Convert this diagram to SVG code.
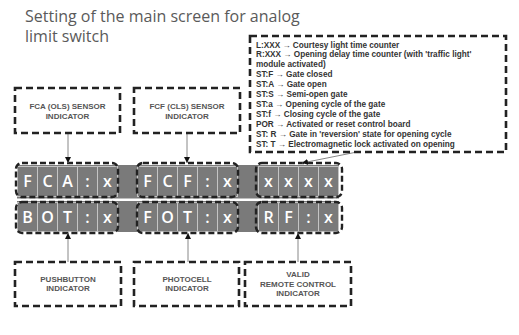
<svg xmlns="http://www.w3.org/2000/svg" width="519" height="335" viewBox="0 0 519 335">
<defs>
<marker id="ah" viewBox="0 0 10 10" refX="10" refY="5" markerWidth="6" markerHeight="6" orient="auto" markerUnits="userSpaceOnUse">
<path d="M0,0 L10,5 L0,10 z" fill="#111"/>
</marker>
<style>
.title{font-family:"Open Sans","Liberation Sans",sans-serif;font-size:16px;fill:#5a5a5a}
.box{fill:none;stroke:#222;stroke-width:2.6;stroke-dasharray:7 4}
.grp{fill:none;stroke:#222;stroke-width:2.4;stroke-dasharray:6 3}
.lbl{font-family:"Liberation Sans",Arial,sans-serif;font-size:8px;font-weight:bold;fill:#555;text-anchor:middle}
.leg{font-family:"Liberation Sans",Arial,sans-serif;font-size:8.2px;font-weight:bold;fill:#333}
.cell{fill:#7a7a7a;stroke:#c4c4c4;stroke-width:1}
.ch{font-family:"Open Sans","Liberation Sans",sans-serif;font-size:16px;font-weight:600;fill:#fff;text-anchor:middle}
.con{stroke:#888;stroke-width:1;fill:none;marker-end:url(#ah)}
</style>
</defs>
<rect width="519" height="335" fill="#fff"/>
<text class="title" x="25" y="22">Setting of the main screen for analog</text>
<text class="title" x="25" y="42">limit switch</text>

<g id="display">
<rect x="17" y="165" width="322" height="67" fill="#7a7a7a"/>
<rect x="17" y="198.5" width="322" height="2.5" fill="#fff"/>
<g id="row-top">
<rect class="cell" x="17.5" y="166.5" width="20" height="30"/><rect class="cell" x="37.5" y="166.5" width="20" height="30"/><rect class="cell" x="57.5" y="166.5" width="20" height="30"/><rect class="cell" x="77.5" y="166.5" width="20" height="30"/><rect class="cell" x="97.5" y="166.5" width="20" height="30"/>
<rect class="cell" x="137.5" y="166.5" width="20" height="30"/><rect class="cell" x="157.5" y="166.5" width="20" height="30"/><rect class="cell" x="177.5" y="166.5" width="20" height="30"/><rect class="cell" x="197.5" y="166.5" width="20" height="30"/><rect class="cell" x="217.5" y="166.5" width="20" height="30"/>
<rect class="cell" x="258.5" y="166.5" width="20" height="30"/><rect class="cell" x="278.5" y="166.5" width="20" height="30"/><rect class="cell" x="298.5" y="166.5" width="20" height="30"/><rect class="cell" x="318.5" y="166.5" width="20" height="30"/>
<text class="ch" x="27.5" y="187">F</text><text class="ch" x="47.5" y="187">C</text><text class="ch" x="67.5" y="187">A</text><text class="ch" x="87.5" y="187">:</text><text class="ch" x="107.5" y="187">x</text>
<text class="ch" x="147.5" y="187">F</text><text class="ch" x="167.5" y="187">C</text><text class="ch" x="187.5" y="187">F</text><text class="ch" x="207.5" y="187">:</text><text class="ch" x="227.5" y="187">x</text>
<text class="ch" x="268.5" y="187">x</text><text class="ch" x="288.5" y="187">x</text><text class="ch" x="308.5" y="187">x</text><text class="ch" x="328.5" y="187">x</text>
</g>
<g id="row-bottom">
<rect class="cell" x="17.5" y="202.5" width="20" height="29"/><rect class="cell" x="37.5" y="202.5" width="20" height="29"/><rect class="cell" x="57.5" y="202.5" width="20" height="29"/><rect class="cell" x="77.5" y="202.5" width="20" height="29"/><rect class="cell" x="97.5" y="202.5" width="20" height="29"/>
<rect class="cell" x="137.5" y="202.5" width="20" height="29"/><rect class="cell" x="157.5" y="202.5" width="20" height="29"/><rect class="cell" x="177.5" y="202.5" width="20" height="29"/><rect class="cell" x="197.5" y="202.5" width="20" height="29"/><rect class="cell" x="217.5" y="202.5" width="20" height="29"/>
<rect class="cell" x="258.5" y="202.5" width="20" height="29"/><rect class="cell" x="278.5" y="202.5" width="20" height="29"/><rect class="cell" x="298.5" y="202.5" width="20" height="29"/><rect class="cell" x="318.5" y="202.5" width="20" height="29"/>
<text class="ch" x="27.5" y="223">B</text><text class="ch" x="47.5" y="223">O</text><text class="ch" x="67.5" y="223">T</text><text class="ch" x="87.5" y="223">:</text><text class="ch" x="107.5" y="223">x</text>
<text class="ch" x="147.5" y="223">F</text><text class="ch" x="167.5" y="223">O</text><text class="ch" x="187.5" y="223">T</text><text class="ch" x="207.5" y="223">:</text><text class="ch" x="227.5" y="223">x</text>
<text class="ch" x="268.5" y="223">R</text><text class="ch" x="288.5" y="223">F</text><text class="ch" x="308.5" y="223">:</text><text class="ch" x="328.5" y="223">x</text>
</g>
<g id="groups">
<rect id="grp-fca" class="grp" x="16" y="163" width="102" height="34" rx="6"/>
<rect id="grp-fcf" class="grp" x="137" y="163" width="101" height="34" rx="6"/>
<rect id="grp-xxxx" class="grp" x="256" y="163" width="86" height="34" rx="6"/>
<rect id="grp-bot" class="grp" x="16" y="202" width="102" height="31" rx="6"/>
<rect id="grp-fot" class="grp" x="137" y="202" width="101" height="31" rx="6"/>
<rect id="grp-rf" class="grp" x="256" y="202" width="86" height="31" rx="6"/>
</g>
</g>

<g id="connectors">
<line class="con" x1="68" y1="133" x2="68" y2="163"/>
<line class="con" x1="187" y1="133" x2="187" y2="163"/>
<line class="con" x1="357" y1="152" x2="302" y2="163"/>
<line class="con" x1="68" y1="262" x2="68" y2="233"/>
<line class="con" x1="188" y1="262" x2="188" y2="233"/>
<line class="con" x1="298" y1="262" x2="298" y2="233"/>
</g>

<g id="fca-sensor">
<rect class="box" x="15" y="88" width="105" height="45"/>
<text class="lbl" x="67.5" y="109">FCA (OLS) SENSOR</text>
<text class="lbl" x="67.5" y="119">INDICATOR</text>
</g>
<g id="fcf-sensor">
<rect class="box" x="134" y="88" width="106" height="45"/>
<text class="lbl" x="187" y="109">FCF (CLS) SENSOR</text>
<text class="lbl" x="187" y="119">INDICATOR</text>
</g>
<g id="legend">
<rect class="box" x="250" y="36" width="256" height="116"/>
<text class="leg" x="256" y="47.5">L:XXX → Courtesy light time counter</text>
<text class="leg" x="256" y="57.4">R:XXX → Opening delay time counter (with 'traffic light'</text>
<text class="leg" x="256" y="67.3">module activated)</text>
<text class="leg" x="256" y="77.2">ST:F → Gate closed</text>
<text class="leg" x="256" y="87.1">ST:A → Gate open</text>
<text class="leg" x="256" y="97">ST:S → Semi-open gate</text>
<text class="leg" x="256" y="106.9">ST:a → Opening cycle of the gate</text>
<text class="leg" x="256" y="116.8">ST:f → Closing cycle of the gate</text>
<text class="leg" x="256" y="126.7">POR → Activated or reset control board</text>
<text class="leg" x="256" y="136.6">ST: R → Gate in 'reversion' state for opening cycle</text>
<text class="leg" x="256" y="146.5">ST: T → Electromagnetic lock activated on opening</text>
</g>
<g id="pushbutton">
<rect class="box" x="15" y="262" width="106" height="44"/>
<text class="lbl" x="68" y="282">PUSHBUTTON</text>
<text class="lbl" x="68" y="291">INDICATOR</text>
</g>
<g id="photocell">
<rect class="box" x="134" y="262" width="105" height="44"/>
<text class="lbl" x="187" y="282">PHOTOCELL</text>
<text class="lbl" x="187" y="291">INDICATOR</text>
</g>
<g id="remote">
<rect class="box" x="245" y="262" width="106" height="44"/>
<text class="lbl" x="298" y="277">VALID</text>
<text class="lbl" x="298" y="287">REMOTE CONTROL</text>
<text class="lbl" x="298" y="296">INDICATOR</text>
</g>
</svg>
